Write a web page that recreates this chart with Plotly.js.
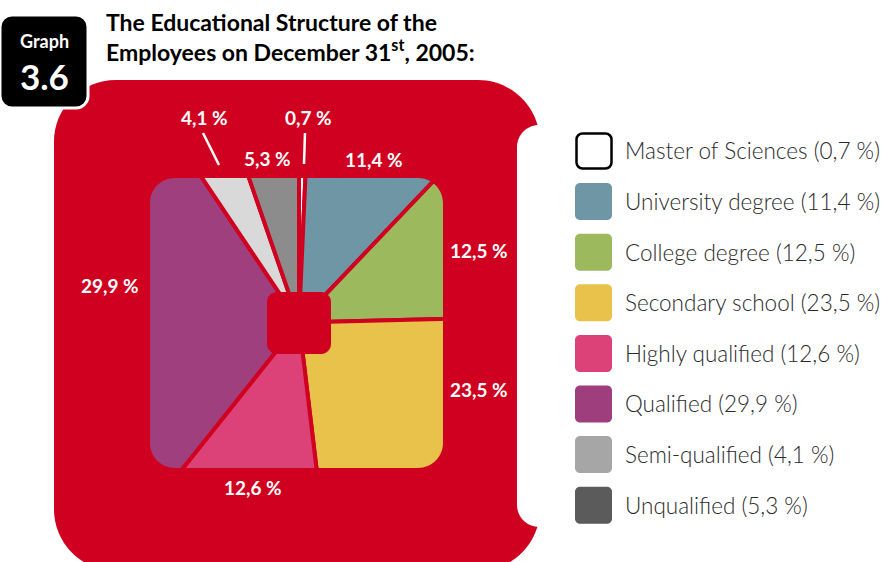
<!DOCTYPE html>
<html>
<head>
<meta charset="utf-8">
<script src="https://cdn.plot.ly/plotly-3.0.1.min.js"></script>
<style>html,body{margin:0;padding:0;background:#fff;}#chart{width:888px;height:562px;}</style>
</head>
<body>
<div id="chart"></div>
<script>
// ---- data ----
const labels = ['Master of Sciences','University degree','College degree','Secondary school','Highly qualified','Qualified','Semi-qualified','Unqualified'];
const values = [0.7, 11.4, 12.5, 23.5, 12.6, 29.9, 4.1, 5.3];
const sliceColors = ['#ffffff','#6e96a5','#9cb95e','#e8c24a','#dc4277','#a03f7e','#d9d9d9','#8c8c8c'];
const legendColors = ['#ffffff','#6e96a5','#9cb95e','#e8c24a','#dc4277','#9f3e7c','#a6a6a6','#5b5b5b'];
const titleLines = ['The Educational Structure of the', 'Employees on December 31<sup>st</sup>, 2005:'];
const graphTag = ['Graph', '3.6'];

// ---- layout helpers (pixel -> paper) ----
const W = 888, H = 562;
const RED = '#d00020';
const X = x => (x / W).toFixed(5);
const Y = y => (1 - y / H).toFixed(5);
const P = (x, y) => X(x) + ',' + Y(y);
function rr(x0, y0, x1, y1, r, rev) {
  const k = 0.5523 * r;
  if (!rev) {
    return 'M' + P(x0 + r, y0) + ' L' + P(x1 - r, y0) +
      ' C' + P(x1 - r + k, y0) + ' ' + P(x1, y0 + r - k) + ' ' + P(x1, y0 + r) +
      ' L' + P(x1, y1 - r) +
      ' C' + P(x1, y1 - r + k) + ' ' + P(x1 - r + k, y1) + ' ' + P(x1 - r, y1) +
      ' L' + P(x0 + r, y1) +
      ' C' + P(x0 + r - k, y1) + ' ' + P(x0, y1 - r + k) + ' ' + P(x0, y1 - r) +
      ' L' + P(x0, y0 + r) +
      ' C' + P(x0, y0 + r - k) + ' ' + P(x0 + r - k, y0) + ' ' + P(x0 + r, y0) + ' Z';
  }
  return 'M' + P(x0 + r, y0) +
    ' C' + P(x0 + r - k, y0) + ' ' + P(x0, y0 + r - k) + ' ' + P(x0, y0 + r) +
    ' L' + P(x0, y1 - r) +
    ' C' + P(x0, y1 - r + k) + ' ' + P(x0 + r - k, y1) + ' ' + P(x0 + r, y1) +
    ' L' + P(x1 - r, y1) +
    ' C' + P(x1 - r + k, y1) + ' ' + P(x1, y1 - r + k) + ' ' + P(x1, y1 - r) +
    ' L' + P(x1, y0 + r) +
    ' C' + P(x1, y0 + r - k) + ' ' + P(x1 - r + k, y0) + ' ' + P(x1 - r, y0) + ' Z';
}
const fmt = v => v.toFixed(1).replace('.', ',') + ' %';

// pie geometry (pixels)
const cx = 299, cy = 322.5, R = 212;
const pctPos = [[308,118],[374,159],[479,250],[479,390],[253,487],[110,285],[204,118],[268,158]];
const legendTop = 151, legendStep = 50.6;

const trace = {
  type: 'pie',
  labels: labels,
  values: values,
  sort: false,
  direction: 'clockwise',
  rotation: 0,
  textinfo: 'none',
  hoverinfo: 'skip',
  showlegend: false,
  marker: { colors: sliceColors, line: { color: RED, width: 4 } },
  domain: { x: [(cx - R) / W, (cx + R) / W], y: [(H - cy - R) / H, (H - cy + R) / H] }
};

const shapes = [];
// red frame with rounded-square window
shapes.push({ type: 'path', xref: 'paper', yref: 'paper', layer: 'above', fillrule: 'evenodd',
  path: rr(54, 80, 540, 571, 62, false) + ' ' + rr(150, 178, 443, 468, 25, true),
  fillcolor: RED, line: { width: 0 } });
// white notch at right side
shapes.push({ type: 'path', xref: 'paper', yref: 'paper', layer: 'above',
  path: rr(517, 125, 640, 527, 22, false), fillcolor: '#ffffff', line: { width: 0 } });
// centre red square
shapes.push({ type: 'path', xref: 'paper', yref: 'paper', layer: 'above',
  path: rr(267, 292, 331, 354, 10, false), fillcolor: RED, line: { width: 0 } });
// black graph tag
shapes.push({ type: 'path', xref: 'paper', yref: 'paper', layer: 'above',
  path: rr(0, 15, 88, 108, 12, false), fillcolor: '#000000', line: { color: '#ffffff', width: 3 } });
// leader lines
shapes.push({ type: 'line', xref: 'paper', yref: 'paper', layer: 'above',
  x0: X(203), y0: Y(133), x1: X(219), y1: Y(165), line: { color: '#ffffff', width: 2.5 } });
shapes.push({ type: 'line', xref: 'paper', yref: 'paper', layer: 'above',
  x0: X(305), y0: Y(133), x1: X(304), y1: Y(164), line: { color: '#ffffff', width: 2.5 } });

const annotations = [];
labels.forEach((lab, i) => {
  const yc = legendTop + i * legendStep;
  const master = i === 0;
  shapes.push({ type: 'path', xref: 'paper', yref: 'paper', layer: 'above',
    path: master ? rr(576.5, yc - 17.5, 611.5, yc + 17.5, 6, false) : rr(575, yc - 18.5, 612, yc + 18.5, 5, false),
    fillcolor: legendColors[i], line: master ? { color: '#000000', width: 2.5 } : { width: 0 } });
  annotations.push({ xref: 'paper', yref: 'paper', x: X(623), y: Y(yc), xanchor: 'left', yanchor: 'middle',
    showarrow: false, text: lab + ' (' + fmt(values[i]) + ')',
    font: { family: 'Lato, "Open Sans", sans-serif', size: 22.5, color: '#2a2a2a', weight: 300 } });
  annotations.push({ xref: 'paper', yref: 'paper', x: X(pctPos[i][0]), y: Y(pctPos[i][1]),
    xanchor: 'center', yanchor: 'middle', showarrow: false, text: fmt(values[i]),
    font: { family: 'Lato, "Open Sans", sans-serif', size: 19, color: '#ffffff', weight: 700 } });
});
// titles
annotations.push({ xref: 'paper', yref: 'paper', x: X(104), y: Y(22), xanchor: 'left', yanchor: 'middle',
  showarrow: false, text: '<b>' + titleLines[0] + '</b>',
  font: { family: 'Lato, "Open Sans", sans-serif', size: 23, color: '#000000' } });
annotations.push({ xref: 'paper', yref: 'paper', x: X(104), y: Y(50), xanchor: 'left', yanchor: 'middle',
  showarrow: false, text: '<b>' + titleLines[1] + '</b>',
  font: { family: 'Lato, "Open Sans", sans-serif', size: 23, color: '#000000' } });
annotations.push({ xref: 'paper', yref: 'paper', x: X(44), y: Y(41), xanchor: 'center', yanchor: 'middle',
  showarrow: false, text: '<b>' + graphTag[0] + '</b>',
  font: { family: 'Lato, "Open Sans", sans-serif', size: 18, color: '#ffffff' } });
annotations.push({ xref: 'paper', yref: 'paper', x: X(44), y: Y(76), xanchor: 'center', yanchor: 'middle',
  showarrow: false, text: '<b>' + graphTag[1] + '</b>',
  font: { family: 'Lato, "Open Sans", sans-serif', size: 35, color: '#ffffff' } });

const layout = {
  width: W, height: H,
  margin: { l: 0, r: 0, t: 0, b: 0, pad: 0 },
  paper_bgcolor: '#ffffff', plot_bgcolor: '#ffffff',
  showlegend: false,
  shapes: shapes,
  annotations: annotations
};
Plotly.newPlot('chart', [trace], layout, { displayModeBar: false, staticPlot: true });
</script>
</body>
</html>
